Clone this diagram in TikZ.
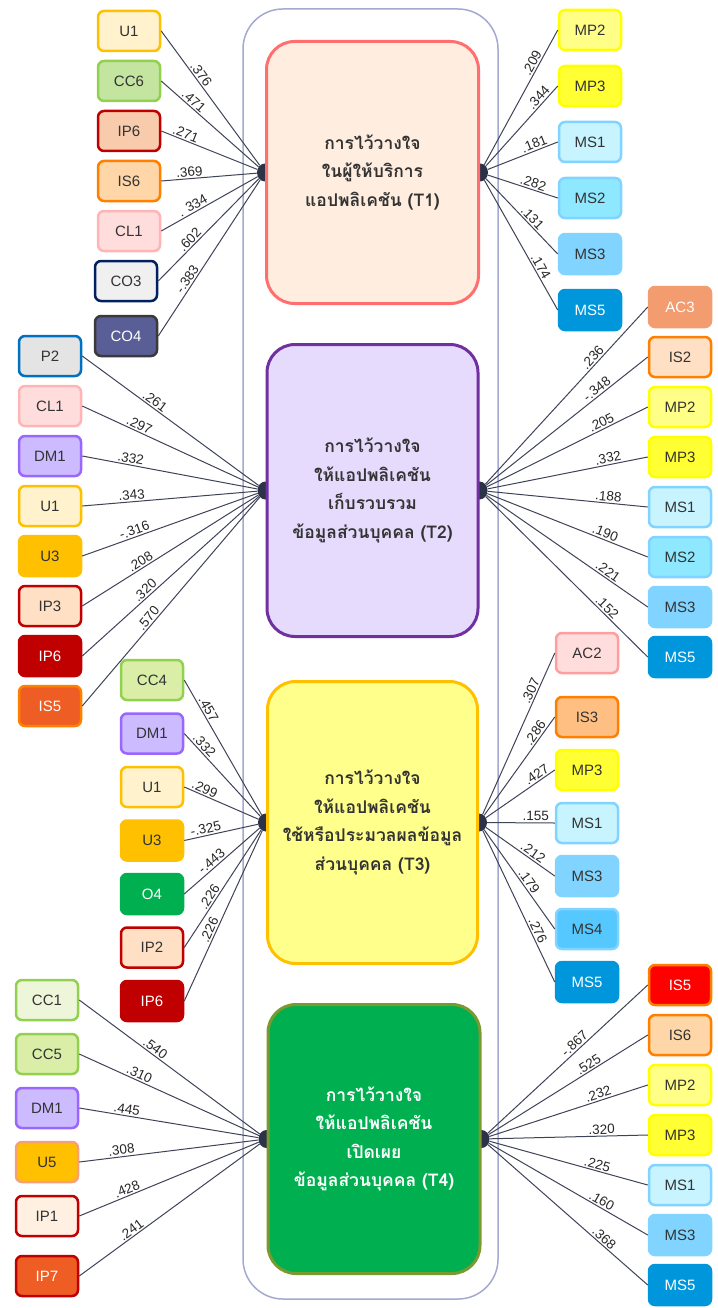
\documentclass[tikz,border=0pt]{standalone}
\usepackage{fontspec}
\setmainfont{Liberation Sans}
\newfontfamily\thaifont[Script=Thai]{Loma}
\usepackage{tikz}
\usetikzlibrary{positioning, shapes.geometric, backgrounds}

\definecolor{txtgray}{HTML}{333333}
\definecolor{coefc}{HTML}{262626}
\definecolor{linec}{HTML}{3E4358}
\definecolor{hubc}{HTML}{2C3247}
\definecolor{groupc}{HTML}{A4A9D0}
\definecolor{tonefill}{HTML}{FFEEDF}
\definecolor{tonedraw}{HTML}{FF6F6F}
\definecolor{ttwofill}{HTML}{E6DAFD}
\definecolor{ttwodraw}{HTML}{7030A0}
\definecolor{tthreefill}{HTML}{FFFF8C}
\definecolor{tthreedraw}{HTML}{FFC000}
\definecolor{tfourfill}{HTML}{00B050}
\definecolor{tfourdraw}{HTML}{7A9A30}
\definecolor{creamc}{HTML}{FFF2CC}
\definecolor{goldc}{HTML}{FFC000}
\definecolor{salmonc}{HTML}{F4A07A}
\definecolor{leafc}{HTML}{92D050}
\definecolor{ccone}{HTML}{EEF6DA}
\definecolor{ccfour}{HTML}{DAEEA8}
\definecolor{ccsix}{HTML}{C3E5A0}
\definecolor{pinkc}{HTML}{FFDDDD}
\definecolor{pinkdc}{HTML}{FFB5B5}
\definecolor{greyc}{HTML}{F0F0F0}
\definecolor{navyc}{HTML}{002060}
\definecolor{slatec}{HTML}{5A5E96}
\definecolor{darkc}{HTML}{3A3A3A}
\definecolor{lgreyc}{HTML}{E4E4E4}
\definecolor{bluec}{HTML}{0070C0}
\definecolor{lilacc}{HTML}{CCBBFF}
\definecolor{violetc}{HTML}{9966FF}
\definecolor{greenc}{HTML}{00B050}
\definecolor{redc}{HTML}{C00000}
\definecolor{peachc}{HTML}{F8CBAD}
\definecolor{apricotc}{HTML}{FFE0C4}
\definecolor{iponec}{HTML}{FFF0E2}
\definecolor{ornredc}{HTML}{EE5E24}
\definecolor{orangec}{HTML}{FF8000}
\definecolor{sandc}{HTML}{FFD6A8}
\definecolor{tanc}{HTML}{FFBF82}
\definecolor{brightred}{HTML}{FF0000}
\definecolor{yelc}{HTML}{FFFF88}
\definecolor{yeltwoc}{HTML}{FFFF33}
\definecolor{yellowc}{HTML}{FFFF00}
\definecolor{msonec}{HTML}{C8F4FF}
\definecolor{skyc}{HTML}{80D4FF}
\definecolor{mstwoc}{HTML}{8EE8FF}
\definecolor{msfourc}{HTML}{55C8FF}
\definecolor{msfivec}{HTML}{0096DC}
\definecolor{acthreec}{HTML}{F29C6F}
\definecolor{actwodc}{HTML}{FF9E9E}

\tikzstyle{trust} = [rectangle, rounded corners=28pt, line width=3pt, align=center, text=txtgray, font=\thaifont\bfseries\fontsize{17.5}{28.5}\selectfont]
\tikzstyle{item} = [rectangle, rounded corners=6pt, minimum width=62pt, minimum height=40pt, line width=2.5pt, text=txtgray, font=\fontsize{15}{16}\selectfont]
\tikzstyle{hub} = [ellipse, fill=hubc, minimum width=16pt, minimum height=18pt, inner sep=0pt]
\tikzstyle{groupbox} = [rectangle, rounded corners=40pt, draw=groupc, line width=1.5pt]
\tikzstyle{link} = [draw=linec, line width=1pt]
\tikzstyle{coef} = [sloped, above, inner sep=1.5pt, text=coefc, font=\fontsize{13.5}{14}\selectfont]
\tikzstyle{sU1} = [fill=creamc, draw=goldc]
\tikzstyle{sU3} = [fill=goldc, draw=goldc]
\tikzstyle{sU5} = [fill=goldc, draw=salmonc]
\tikzstyle{sCC1} = [fill=ccone, draw=leafc]
\tikzstyle{sCC4} = [fill=ccfour, draw=leafc]
\tikzstyle{sCC6} = [fill=ccsix, draw=leafc]
\tikzstyle{sCL1} = [fill=pinkc, draw=pinkdc]
\tikzstyle{sCO3} = [fill=greyc, draw=navyc]
\tikzstyle{sCO4} = [fill=slatec, draw=darkc, text=white]
\tikzstyle{sP2} = [fill=lgreyc, draw=bluec]
\tikzstyle{sDM1} = [fill=lilacc, draw=violetc]
\tikzstyle{sO4} = [fill=greenc, draw=greenc, text=white]
\tikzstyle{sIPpeach} = [fill=peachc, draw=redc]
\tikzstyle{sIPapricot} = [fill=apricotc, draw=redc]
\tikzstyle{sIPred} = [fill=redc, draw=redc, text=white]
\tikzstyle{sIP1} = [fill=iponec, draw=redc]
\tikzstyle{sIP7} = [fill=ornredc, draw=redc, text=white]
\tikzstyle{sIS2} = [fill=apricotc, draw=orangec]
\tikzstyle{sIS3} = [fill=tanc, draw=orangec]
\tikzstyle{sIS6} = [fill=sandc, draw=orangec]
\tikzstyle{sISorn} = [fill=ornredc, draw=orangec, text=white]
\tikzstyle{sISred} = [fill=brightred, draw=orangec, text=white]
\tikzstyle{sMP2} = [fill=yelc, draw=yellowc]
\tikzstyle{sMP3} = [fill=yeltwoc, draw=yellowc]
\tikzstyle{sMS1} = [fill=msonec, draw=skyc]
\tikzstyle{sMS2} = [fill=mstwoc, draw=skyc]
\tikzstyle{sMS3} = [fill=skyc, draw=skyc]
\tikzstyle{sMS4} = [fill=msfourc, draw=skyc]
\tikzstyle{sMS5} = [fill=msfivec, draw=msfivec, text=white]
\tikzstyle{sAC2} = [fill=pinkc, draw=actwodc]
\tikzstyle{sAC3} = [fill=acthreec, draw=acthreec, text=white]

\begin{document}
\begin{tikzpicture}[x=1pt, y=-1pt, node distance=7.5pt]
\useasboundingbox (0,0) rectangle (717,1308);

% Frame and trust blocks
\node (group) [groupbox, minimum width=255pt, minimum height=1290pt] at (370.5,654) {};
\node (T1) [trust, fill=tonefill, draw=tonedraw, minimum width=212pt, minimum height=262pt] at (372.5,172.5) {การไว้วางใจ\\ในผู้ให้บริการ\\แอปพลิเคชัน (T1)};
\node (T2) [trust, fill=ttwofill, draw=ttwodraw, minimum width=211pt, minimum height=292pt, below=38pt of T1] {การไว้วางใจ\\ให้แอปพลิเคชัน\\เก็บรวบรวม\\ข้อมูลส่วนบุคคล (T2)};
\node (T3) [trust, fill=tthreefill, draw=tthreedraw, minimum width=210pt, minimum height=282pt, below=42pt of T2] {การไว้วางใจ\\ให้แอปพลิเคชัน\\ใช้หรือประมวลผลข้อมูล\\ส่วนบุคคล (T3)};
\node (T4) [trust, fill=tfourfill, draw=tfourdraw, text=white, minimum width=212pt, minimum height=269pt, below=38pt of T3, xshift=1.5pt] {การไว้วางใจ\\ให้แอปพลิเคชัน\\เปิดเผย\\ข้อมูลส่วนบุคคล (T4)};

% Hubs
\begin{scope}[on background layer]
\node (h1l) [hub] at (T1.west) {};
\node (h1r) [hub] at (T1.east) {};
\node (h2l) [hub] at (T2.west) {};
\node (h2r) [hub] at (T2.east) {};
\node (h3l) [hub] at (T3.west) {};
\node (h3r) [hub] at (T3.east) {};
\node (h4l) [hub] at (T4.west) {};
\node (h4r) [hub] at (T4.east) {};
\end{scope}

% Indicators T1
\node (t1u1) [item, sU1] at (129,31) {U1};
\node (t1cc6) [item, sCC6, below=of t1u1] {CC6};
\node (t1ip6) [item, sIPpeach, below=of t1cc6] {IP6};
\node (t1is6) [item, sIS6, below=of t1ip6] {IS6};
\node (t1cl1) [item, sCL1, below=of t1is6] {CL1};
\node (t1co3) [item, sCO3, below=of t1cl1, xshift=-3pt] {CO3};
\node (t1co4) [item, sCO4, below=12.5pt of t1co3] {CO4};
\node (t1mp2) [item, sMP2] at (590,30) {MP2};
\node (t1mp3) [item, sMP3, below=13.5pt of t1mp2] {MP3};
\node (t1ms1) [item, sMS1, below=13.5pt of t1mp3] {MS1};
\node (t1ms2) [item, sMS2, below=13.5pt of t1ms1] {MS2};
\node (t1ms3) [item, sMS3, below=13.5pt of t1ms2] {MS3};
\node (t1ms5) [item, sMS5, below=13.5pt of t1ms3] {MS5};

% Indicators T2
\node (t2p2) [item, sP2] at (50,356) {P2};
\node (t2cl1) [item, sCL1, below=of t2p2] {CL1};
\node (t2dm1) [item, sDM1, below=of t2cl1] {DM1};
\node (t2u1) [item, sU1, below=of t2dm1] {U1};
\node (t2u3) [item, sU3, below=of t2u1] {U3};
\node (t2ip3) [item, sIPapricot, below=of t2u3] {IP3};
\node (t2ip6) [item, sIPred, below=of t2ip3] {IP6};
\node (t2is5) [item, sISorn, below=of t2ip6] {IS5};
\node (t2ac3) [item, sAC3] at (680,307) {AC3};
\node (t2is2) [item, sIS2, below=of t2ac3] {IS2};
\node (t2mp2) [item, sMP2, below=of t2is2] {MP2};
\node (t2mp3) [item, sMP3, below=of t2mp2] {MP3};
\node (t2ms1) [item, sMS1, below=of t2mp3] {MS1};
\node (t2ms2) [item, sMS2, below=of t2ms1] {MS2};
\node (t2ms3) [item, sMS3, below=of t2ms2] {MS3};
\node (t2ms5) [item, sMS5, below=of t2ms3] {MS5};

% Indicators T3
\node (t3cc4) [item, sCC4] at (152,680) {CC4};
\node (t3dm1) [item, sDM1, below=11pt of t3cc4] {DM1};
\node (t3u1) [item, sU1, below=11pt of t3dm1] {U1};
\node (t3u3) [item, sU3, below=11pt of t3u1] {U3};
\node (t3o4) [item, sO4, below=11pt of t3u3] {O4};
\node (t3ip2) [item, sIPapricot, below=11pt of t3o4] {IP2};
\node (t3ip6) [item, sIPred, below=11pt of t3ip2] {IP6};
\node (t3ac2) [item, sAC2] at (587,653) {AC2};
\node (t3is3) [item, sIS3, below=21.5pt of t3ac2] {IS3};
\node (t3mp3) [item, sMP3, below=10.5pt of t3is3] {MP3};
\node (t3ms1) [item, sMS1, below=10.5pt of t3mp3] {MS1};
\node (t3ms3) [item, sMS3, below=10.5pt of t3ms1] {MS3};
\node (t3ms4) [item, sMS4, below=10.5pt of t3ms3] {MS4};
\node (t3ms5) [item, sMS5, below=10.5pt of t3ms4] {MS5};

% Indicators T4
\node (t4cc1) [item, sCC1] at (47,1000) {CC1};
\node (t4cc5) [item, sCC4, below=11.5pt of t4cc1] {CC5};
\node (t4dm1) [item, sDM1, below=11.5pt of t4cc5] {DM1};
\node (t4u5) [item, sU5, below=11.5pt of t4dm1] {U5};
\node (t4ip1) [item, sIP1, below=11.5pt of t4u5] {IP1};
\node (t4ip7) [item, sIP7, below=17.5pt of t4ip1] {IP7};
\node (t4is5) [item, sISred] at (680,985) {IS5};
\node (t4is6) [item, sIS6, below=of t4is5] {IS6};
\node (t4mp2) [item, sMP2, below=of t4is6] {MP2};
\node (t4mp3) [item, sMP3, below=of t4mp2] {MP3};
\node (t4ms1) [item, sMS1, below=of t4mp3] {MS1};
\node (t4ms3) [item, sMS3, below=of t4ms1] {MS3};
\node (t4ms5) [item, sMS5, below=of t4ms3] {MS5};

% Links T1
\draw [link] (t1u1.east) -- node[coef, pos=.35] {.376} (h1l);
\draw [link] (t1cc6.east) -- node[coef, pos=.29] {.471} (h1l);
\draw [link] (t1ip6.east) -- node[coef, pos=.23] {.271} (h1l);
\draw [link] (t1is6.east) -- node[coef, pos=.30] {.369} (h1l);
\draw [link] (t1cl1.east) -- node[coef, pos=.36] {. 334} (h1l);
\draw [link] (t1co3.east) -- node[coef, pos=.36] {.602} (h1l);
\draw [link] (t1co4.east) -- node[coef, pos=.34] {-.383} (h1l);
\draw [link] (h1r) -- node[coef, pos=.73] {.209} (t1mp2.west);
\draw [link] (h1r) -- node[coef, pos=.80] {.344} (t1mp3.west);
\draw [link] (h1r) -- node[coef, pos=.70] {.181} (t1ms1.west);
\draw [link] (h1r) -- node[coef, pos=.62] {.282} (t1ms2.west);
\draw [link] (h1r) -- node[coef, pos=.58] {.131} (t1ms3.west);
\draw [link] (h1r) -- node[coef, pos=.69] {.174} (t1ms5.west);

% Links T2
\draw [link] (t2p2.east) -- node[coef, pos=.39] {.261} (h2l);
\draw [link] (t2cl1.east) -- node[coef, pos=.31] {.297} (h2l);
\draw [link] (t2dm1.east) -- node[coef, pos=.27] {.332} (h2l);
\draw [link] (t2u1.east) -- node[coef, pos=.285] {.343} (h2l);
\draw [link] (t2u3.east) -- node[coef, pos=.31] {-.316} (h2l);
\draw [link] (t2ip3.east) -- node[coef, pos=.35] {.208} (h2l);
\draw [link] (t2ip6.east) -- node[coef, pos=.38] {.320} (h2l);
\draw [link] (t2is5.east) -- node[coef, pos=.40] {.570} (h2l);
\draw [link] (h2r) -- node[coef, pos=.69] {.236} (t2ac3.west);
\draw [link] (h2r) -- node[coef, pos=.71] {-.348} (t2is2.west);
\draw [link] (h2r) -- node[coef, pos=.73] {.205} (t2mp2.west);
\draw [link] (h2r) -- node[coef, pos=.76] {.332} (t2mp3.west);
\draw [link] (h2r) -- node[coef, pos=.75] {.188} (t2ms1.west);
\draw [link] (h2r) -- node[coef, pos=.72] {.190} (t2ms2.west);
\draw [link] (h2r) -- node[coef, pos=.73] {.221} (t2ms3.west);
\draw [link] (h2r) -- node[coef, pos=.72] {.152} (t2ms5.west);

% Links T3
\draw [link] (t3cc4.east) -- node[coef, pos=.24] {.457} (h3l);
\draw [link] (t3dm1.east) -- node[coef, pos=.20] {.332} (h3l);
\draw [link] (t3u1.east) -- node[coef, pos=.24] {.299} (h3l);
\draw [link] (t3u3.east) -- node[coef, pos=.31] {-.325} (h3l);
\draw [link] (t3o4.east) -- node[coef, pos=.42] {-.443} (h3l);
\draw [link] (t3ip2.east) -- node[coef, pos=.40] {.226} (h3l);
\draw [link] (t3ip6.east) -- node[coef, pos=.40] {.226} (h3l);
\draw [link] (h3r) -- node[coef, pos=.75] {.307} (t3ac2.west);
\draw [link] (h3r) -- node[coef, pos=.80] {.286} (t3is3.west);
\draw [link] (h3r) -- node[coef, pos=.79] {.427} (t3mp3.west);
\draw [link] (h3r) -- node[coef, pos=.72] {.155} (t3ms1.west);
\draw [link] (h3r) -- node[coef, pos=.63] {.212} (t3ms3.west);
\draw [link] (h3r) -- node[coef, pos=.56] {.179} (t3ms4.west);
\draw [link] (h3r) -- node[coef, pos=.68] {.276} (t3ms5.west);

% Links T4
\draw [link] (t4cc1.east) -- node[coef, pos=.40] {.540} (h4l);
\draw [link] (t4cc5.east) -- node[coef, pos=.32] {.310} (h4l);
\draw [link] (t4dm1.east) -- node[coef, pos=.26] {.445} (h4l);
\draw [link] (t4u5.east) -- node[coef, pos=.24] {.308} (h4l);
\draw [link] (t4ip1.east) -- node[coef, pos=.28] {.428} (h4l);
\draw [link] (t4ip7.east) -- node[coef, pos=.31] {.241} (h4l);
\draw [link] (h4r) -- node[coef, pos=.57] {-.867} (t4is5.west);
\draw [link] (h4r) -- node[coef, pos=.65] {.525} (t4is6.west);
\draw [link] (h4r) -- node[coef, pos=.70] {.232} (t4mp2.west);
\draw [link] (h4r) -- node[coef, pos=.71] {.320} (t4mp3.west);
\draw [link] (h4r) -- node[coef, pos=.67] {.225} (t4ms1.west);
\draw [link] (h4r) -- node[coef, pos=.69] {.160} (t4ms3.west);
\draw [link] (h4r) -- node[coef, pos=.70] {.368} (t4ms5.west);

\end{tikzpicture}
\end{document}
